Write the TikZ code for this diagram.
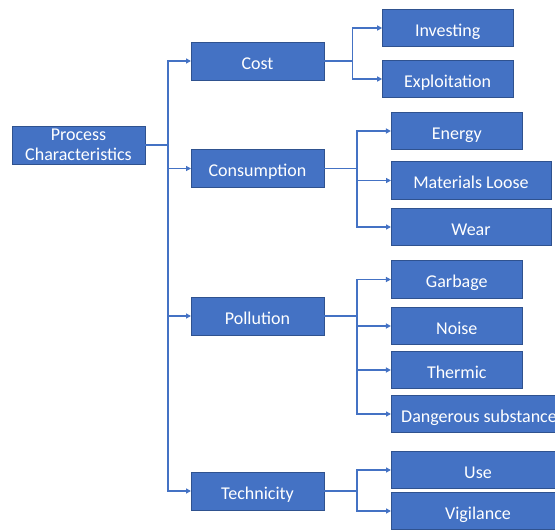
\documentclass[tikz,border=0pt]{standalone}
\usepackage{fontspec}
\setmainfont{Carlito}
\usetikzlibrary{arrows.meta}
\definecolor{boxfill}{HTML}{4472C4}
\definecolor{boxline}{HTML}{2F528F}
\definecolor{connc}{HTML}{4472C4}
\tikzset{
  bx/.style={draw=boxline, fill=boxfill, line width=0.8pt, text=white, inner sep=0pt, outer sep=0pt,
    minimum height=38pt, font=\fontsize{18}{20.5}\selectfont, text height=16pt, text depth=0pt},
  bx2/.style={draw=boxline, fill=boxfill, line width=0.8pt, text=white, inner sep=0pt, outer sep=0pt,
    minimum height=38pt, align=center, font=\fontsize{18}{20.5}\selectfont},
  conn/.style={draw=connc, line width=1.3pt, -{Triangle[length=5pt,width=5pt]}},
}
\begin{document}
\begin{tikzpicture}[x=1pt,y=-1pt]
\useasboundingbox (0,0) rectangle (555,530);
\clip (0,0) rectangle (555,530);
\node[bx2, minimum width=133pt] (proc) at (78.5,145) {Process\\Characteristics};
\node[bx, minimum width=133pt] (cost) at (257.5,61) {Cost};
\node[bx, minimum width=133pt] (cons) at (257.5,168.5) {Consumption};
\node[bx, minimum width=133pt] (poll) at (257.5,316) {Pollution};
\node[bx, minimum width=133pt] (tech) at (257.5,491) {Technicity};
\node[bx, minimum width=131pt, minimum height=37.5pt] (inv) at (447.7,28) {Investing};
\node[bx, minimum width=131pt, minimum height=37.5pt] (expl) at (447.7,79) {Exploitation};
\node[bx, minimum width=131.7pt, minimum height=37.5pt] (ener) at (456.8,131) {Energy};
\node[bx, minimum width=160pt, minimum height=37.5pt] (mat) at (471,180.5) {Materials Loose};
\node[bx, minimum width=160pt, minimum height=37.5pt] (wear) at (471,227) {Wear};
\node[bx, minimum width=131.7pt, minimum height=37.5pt] (garb) at (456.8,279.5) {Garbage};
\node[bx, minimum width=131.7pt, minimum height=37.5pt] (noise) at (456.8,326) {Noise};
\node[bx, minimum width=131.7pt, minimum height=37.5pt] (therm) at (456.8,370) {Thermic};
\node[bx, minimum width=176pt, minimum height=37.5pt] (dang) at (479,414) {Dangerous substance};
\node[bx, minimum width=174pt, minimum height=37.5pt] (use) at (478,470) {Use};
\node[bx, minimum width=174pt, minimum height=37.5pt] (vig) at (478,511) {Vigilance};
% trunk
\foreach \t in {cost,cons,poll,tech}
  \draw[conn] (proc.east) -- ++(23,0) |- (\t.west);
\foreach \t in {inv,expl}
  \draw[conn] (cost.east) -- ++(28.7,0) |- (\t.west);
\foreach \t in {ener,mat,wear}
  \draw[conn] (cons.east) -- ++(33,0) |- (\t.west);
\foreach \t in {garb,noise,therm,dang}
  \draw[conn] (poll.east) -- ++(33,0) |- (\t.west);
\foreach \t in {use,vig}
  \draw[conn] (tech.east) -- ++(33,0) |- (\t.west);
\end{tikzpicture}
\end{document}
